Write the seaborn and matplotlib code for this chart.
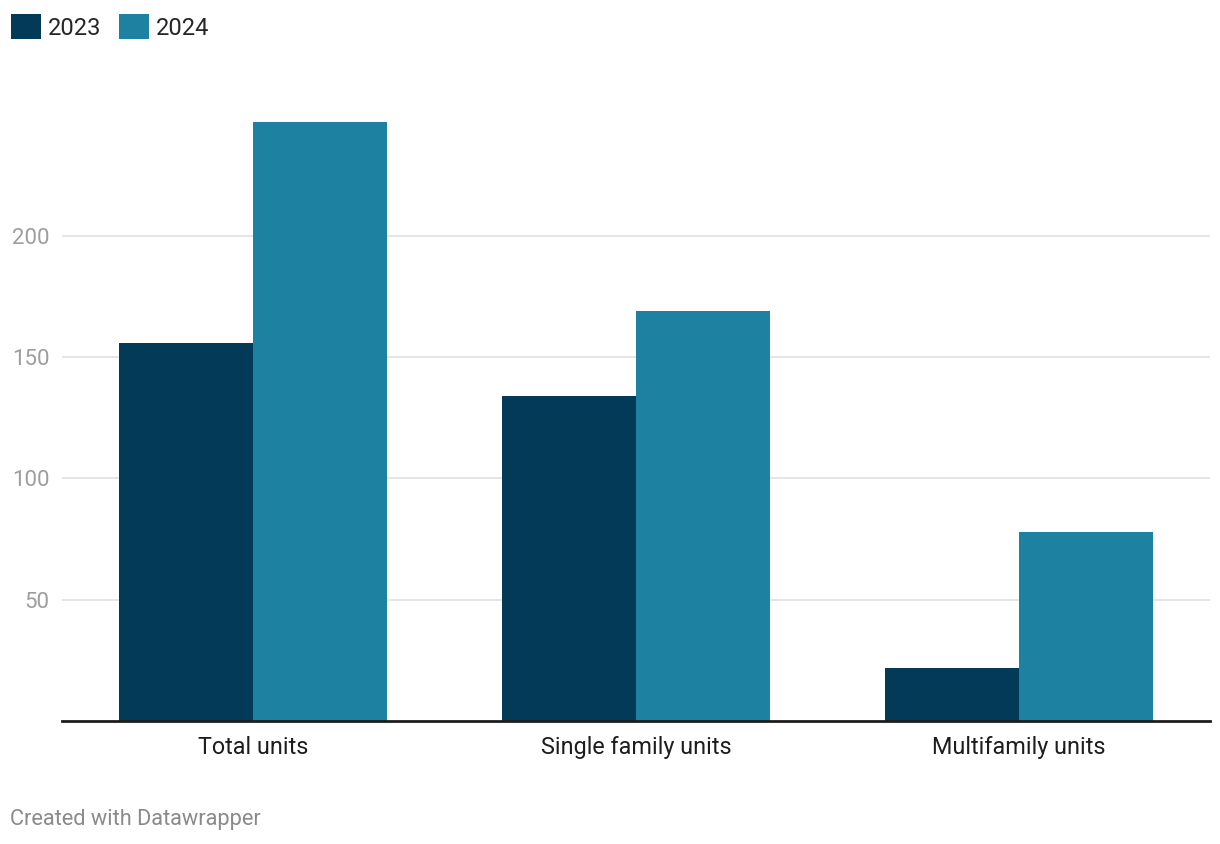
import matplotlib
matplotlib.use("Agg")
import matplotlib.pyplot as plt
import seaborn as sns
import pandas as pd

# values
categories = ["Total units", "Single family units", "Multifamily units"]
years = ["2023", "2024"]
units_2023 = [156, 134, 22]
units_2024 = [247, 169, 78]

df = pd.DataFrame({
    "category": categories * 2,
    "year": [years[0]] * 3 + [years[1]] * 3,
    "units": units_2023 + units_2024,
})

sns.set_theme(style="white")
plt.rcParams["font.family"] = ["Roboto", "DejaVu Sans"]

colors = {"2023": "#033a57", "2024": "#1d82a2"}

W, H = 1220, 844
fig = plt.figure(figsize=(W / 100, H / 100), dpi=100)
ax = fig.add_axes([62 / W, (H - 721) / H, 1148 / W, 621 / H])

sns.barplot(data=df, x="category", y="units", hue="year", palette=colors,
            width=0.7, saturation=1, ax=ax, edgecolor="none", linewidth=0)

ax.set_xlim(-0.5, 2.5)
ax.set_ylim(0, 256)
ax.set_yticks([50, 100, 150, 200])
ax.set_axisbelow(True)
ax.grid(axis="y", color="#e3e3e3", linewidth=1.3)
ax.grid(axis="x", visible=False)
for s in ["top", "right", "left"]:
    ax.spines[s].set_visible(False)
ax.spines["bottom"].set_color("#1d1d1d")
ax.spines["bottom"].set_linewidth(2)
ax.tick_params(axis="y", length=0, pad=9, labelsize=16, labelcolor="#9e9e9e")
ax.tick_params(axis="x", length=0, pad=11, labelsize=16.8, labelcolor="#1d1d1d")
ax.set_xlabel("")
ax.set_ylabel("")

sns.move_legend(ax, loc="upper left", bbox_to_anchor=(2 / W, 1 - 5 / H),
                bbox_transform=fig.transFigure, ncol=2, frameon=False,
                title=None, fontsize=17, handlelength=1.25, handleheight=1.25,
                handletextpad=0.3, columnspacing=0.75, borderaxespad=0)

fig.text(10 / W, 1 - 819 / H, "Created with Datawrapper", fontsize=15.7,
         color="#8a8a8a", va="center", ha="left")

fig.savefig("out.png", dpi=100)
